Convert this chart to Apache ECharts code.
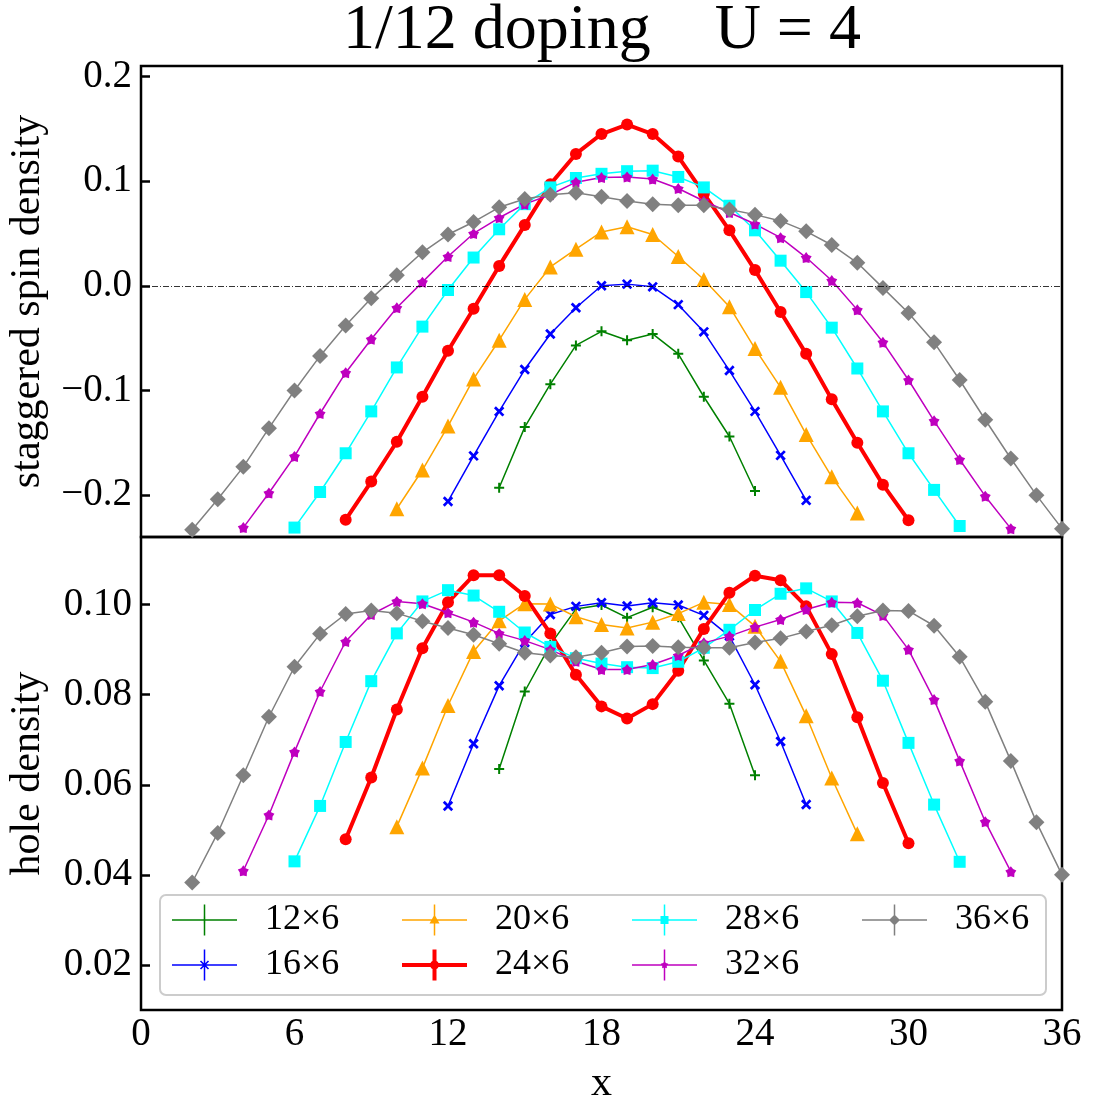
<!DOCTYPE html>
<html><head><meta charset="utf-8">
<script src="https://cdn.jsdelivr.net/npm/echarts@6/dist/echarts.min.js"></script>
<style>html,body{margin:0;padding:0;background:#fff}#c{width:1093px;height:1103px}</style>
</head><body><div id="c"></div>
<script>
// ---------------- data ----------------
const sizeNames = ['12×6', '16×6', '20×6', '24×6', '28×6', '32×6', '36×6'];
const xStart = [14, 12, 10, 8, 6, 4, 2];
const xTicks = [0, 6, 12, 18, 24, 30, 36];
const spinTicks = [-0.2, -0.1, 0.0, 0.1, 0.2];
const holeTicks = [0.02, 0.04, 0.06, 0.08, 0.10];

const spin12 = [-0.193, -0.135, -0.094, -0.057, -0.0435, -0.052, -0.046, -0.065, -0.106, -0.144, -0.196];
const spin16 = [-0.206, -0.1625, -0.120, -0.080, -0.046, -0.021, 0.000, 0.0016, -0.001, -0.018, -0.044, -0.081, -0.120, -0.162, -0.205];
const spin20 = [-0.213, -0.176, -0.134, -0.089, -0.052, -0.013, 0.018, 0.035, 0.0515, 0.0565, 0.049, 0.028, 0.006, -0.020, -0.060, -0.097, -0.142, -0.1825, -0.217];
const spin24 = [-0.2235, -0.187, -0.149, -0.106, -0.062, -0.022, 0.019, 0.058, 0.097, 0.126, 0.145, 0.154, 0.145, 0.1235, 0.088, 0.053, 0.015, -0.025, -0.065, -0.1085, -0.150, -0.190, -0.224];
const spin28 = [-0.231, -0.197, -0.160, -0.120, -0.078, -0.039, -0.004, 0.027, 0.054, 0.078, 0.094, 0.103, 0.107, 0.1095, 0.110, 0.104, 0.094, 0.0765, 0.053, 0.024, -0.006, -0.040, -0.079, -0.120, -0.160, -0.195, -0.2295];
const spin32 = [-0.231, -0.198, -0.163, -0.122, -0.083, -0.051, -0.021, 0.0035, 0.028, 0.050, 0.065, 0.078, 0.087, 0.099, 0.1035, 0.104, 0.102, 0.093, 0.081, 0.070, 0.059, 0.046, 0.027, 0.005, -0.023, -0.054, -0.090, -0.129, -0.166, -0.201, -0.232];
const spin36 = [-0.233, -0.204, -0.173, -0.136, -0.100, -0.067, -0.038, -0.012, 0.010, 0.032, 0.049, 0.061, 0.075, 0.083, 0.087, 0.089, 0.085, 0.081, 0.078, 0.077, 0.077, 0.073, 0.068, 0.062, 0.052, 0.039, 0.022, -0.002, -0.026, -0.054, -0.090, -0.128, -0.165, -0.200, -0.232];

const hole12 = [0.0635, 0.0807, 0.0911, 0.0990, 0.0999, 0.0971, 0.0994, 0.0972, 0.0876, 0.0780, 0.0621];
const hole16 = [0.0553, 0.0691, 0.0820, 0.0916, 0.0978, 0.0996, 0.1004, 0.0997, 0.1004, 0.0999, 0.0976, 0.0930, 0.0822, 0.0696, 0.0556];
const hole20 = [0.0507, 0.0637, 0.0776, 0.0896, 0.0964, 0.1002, 0.1001, 0.0973, 0.0956, 0.0948, 0.0961, 0.0980, 0.1005, 0.1000, 0.0952, 0.0874, 0.0753, 0.0615, 0.0491];
const hole24 = [0.0479, 0.0616, 0.0767, 0.0903, 0.1005, 0.1065, 0.1065, 0.1019, 0.0936, 0.0844, 0.0774, 0.0747, 0.0779, 0.0853, 0.0946, 0.1026, 0.1064, 0.1054, 0.0996, 0.0890, 0.0750, 0.0604, 0.0470];
const hole28 = [0.0430, 0.0553, 0.0695, 0.0830, 0.0936, 0.1007, 0.1032, 0.1020, 0.0984, 0.0938, 0.0906, 0.0881, 0.0869, 0.0861, 0.0859, 0.0873, 0.0904, 0.0944, 0.0988, 0.1024, 0.1036, 0.1007, 0.0937, 0.0831, 0.0693, 0.0556, 0.0429];
const hole32 = [0.0409, 0.0533, 0.0673, 0.0807, 0.0918, 0.0978, 0.1007, 0.1002, 0.0982, 0.0961, 0.0936, 0.0920, 0.0900, 0.0874, 0.0856, 0.0856, 0.0867, 0.0887, 0.0915, 0.0930, 0.0950, 0.0967, 0.0989, 0.1005, 0.1004, 0.0976, 0.0900, 0.0789, 0.0653, 0.0518, 0.0407];
const hole36 = [0.0383, 0.0493, 0.0621, 0.0751, 0.0862, 0.0935, 0.0979, 0.0987, 0.0981, 0.0963, 0.0948, 0.0933, 0.0913, 0.0893, 0.0887, 0.0883, 0.0893, 0.0907, 0.0908, 0.0905, 0.0904, 0.0904, 0.0916, 0.0925, 0.0940, 0.0954, 0.0974, 0.0987, 0.0986, 0.0953, 0.0884, 0.0784, 0.0653, 0.0517, 0.0400];

const spinData = [spin12, spin16, spin20, spin24, spin28, spin32, spin36];
const holeData = [hole12, hole16, hole20, hole24, hole28, hole32, hole36];

// ---------------- styles ----------------
const FONT = 'Liberation Serif';
const PLUS = 'path://M-1,-5L1,-5L1,-1L5,-1L5,1L1,1L1,5L-1,5L-1,1L-5,1L-5,-1L-1,-1Z';
const XMARK = 'path://M-1.15,-5L1.15,-5L1.15,-1.15L5,-1.15L5,1.15L1.15,1.15L1.15,5L-1.15,5L-1.15,1.15L-5,1.15L-5,-1.15L-1.15,-1.15Z';
const STAR = 'path://M0,-5L1.9,-2.6L4.755,-1.545L3.1,1.0L2.939,4.045L0,3.3L-2.939,4.045L-3.1,1.0L-4.755,-1.545L-1.9,-2.6Z';
const styles = [
  { color: '#008000', symbol: PLUS, size: 10, rotate: 0, lw: 1.5 },
  { color: '#0000ff', symbol: XMARK, size: 12, rotate: 45, lw: 1.5 },
  { color: '#ffa500', symbol: 'triangle', size: 15, rotate: 0, lw: 1.5 },
  { color: '#ff0000', symbol: 'circle', size: 12, rotate: 0, lw: 4 },
  { color: '#00ffff', symbol: 'rect', size: 12, rotate: 0, lw: 1.5 },
  { color: '#bf00bf', symbol: STAR, size: 11, rotate: 0, lw: 1.5 },
  { color: '#808080', symbol: 'diamond', size: 16, rotate: 0, lw: 1.5 }
];

// legend icons: horizontal line + vertical error bar + marker, in a 65x31 box
function bars(t) {
  const h0 = 15.5 - t / 2, h1 = 15.5 + t / 2, v0 = 32.5 - t / 2, v1 = 32.5 + t / 2;
  return `M0,${h0}L65,${h0}L65,${h1}L0,${h1}Z M${v0},0L${v1},0L${v1},31L${v0},31Z`;
}
const cx = 32.5, cy = 15.5;
const iconMarkers = [
  `M${cx-0.8},${cy-3.5}L${cx+0.8},${cy-3.5}L${cx+0.8},${cy-0.8}L${cx+3.5},${cy-0.8}L${cx+3.5},${cy+0.8}L${cx+0.8},${cy+0.8}L${cx+0.8},${cy+3.5}L${cx-0.8},${cy+3.5}L${cx-0.8},${cy+0.8}L${cx-3.5},${cy+0.8}L${cx-3.5},${cy-0.8}L${cx-0.8},${cy-0.8}Z`,
  `M${cx-3.43},${cy-4.57}L${cx+4.57},${cy+3.43}L${cx+3.43},${cy+4.57}L${cx-4.57},${cy-3.43}Z M${cx+3.43},${cy-4.57}L${cx+4.57},${cy-3.43}L${cx-3.43},${cy+4.57}L${cx-4.57},${cy+3.43}Z`,
  `M${cx},${cy-5.5}L${cx+5},${cy+3.5}L${cx-5},${cy+3.5}Z`,
  `M${cx-4.5},${cy}A4.5 4.5 0 1 1 ${cx+4.5},${cy}A4.5 4.5 0 1 1 ${cx-4.5},${cy}Z`,
  `M${cx-4},${cy-4}L${cx+4},${cy-4}L${cx+4},${cy+4}L${cx-4},${cy+4}Z`,
  `M${cx},${cy-4}L${cx+1.41},${cy-1.94}L${cx+3.8},${cy-1.24}L${cx+2.28},${cy+0.74}L${cx+2.35},${cy+3.24}L${cx},${cy+2.4}L${cx-2.35},${cy+3.24}L${cx-2.28},${cy+0.74}L${cx-3.8},${cy-1.24}L${cx-1.41},${cy-1.94}Z`,
  `M${cx},${cy-5.5}L${cx+5.5},${cy}L${cx},${cy+5.5}L${cx-5.5},${cy}Z`
];
const icons = styles.map((s, i) => 'path://' + bars(s.lw === 4 ? 4 : 1.5) + ' ' + iconMarkers[i]);

// ---------------- series ----------------
function pairs(arr, x0) { return arr.map((v, i) => [x0 + i, v]); }
const series = [];
sizeNames.forEach((name, i) => {
  const st = styles[i];
  const common = {
    type: 'line', name: name, symbol: st.symbol, symbolSize: st.size, symbolRotate: st.rotate,
    showAllSymbol: true, animation: false, silent: true,
    lineStyle: { color: st.color, width: st.lw },
    itemStyle: { color: st.color, borderWidth: 0 },
    emphasis: { disabled: true }
  };
  const top = Object.assign({}, common, { xAxisIndex: 0, yAxisIndex: 0, data: pairs(spinData[i], xStart[i]) });
  if (i === 0) {
    top.markLine = {
      silent: true, symbol: 'none', animation: false, label: { show: false },
      lineStyle: { color: '#000', width: 0.8, type: [6, 2, 1, 2] },
      data: [{ yAxis: 0 }]
    };
  }
  series.push(top);
  series.push(Object.assign({}, common, { xAxisIndex: 1, yAxisIndex: 1, data: pairs(holeData[i], xStart[i]) }));
});

// ---------------- legend columns ----------------
const legendCols = [[0, 1], [2, 3], [4, 5], [6]];
const legendLeft = [172, 402, 632, 862];
const legends = legendCols.map((col, c) => ({
  orient: 'vertical', left: legendLeft[c], top: 901, padding: 0,
  itemWidth: 65, itemHeight: 31, itemGap: 7, selectedMode: false,
  itemStyle: { borderWidth: 0 },
  textStyle: { fontFamily: FONT, fontSize: 36, color: '#000', lineHeight: 38, padding: [0, 0, 0, 23] },
  data: col.map(i => ({ name: sizeNames[i], icon: icons[i] }))
}));

const grids = [
  { left: 141, right: 31, top: 66, height: 471, show: true, borderColor: '#000', borderWidth: 2.5,
    backgroundColor: 'transparent', containLabel: false, outerBoundsMode: 'none' },
  { left: 141, right: 31, top: 537, height: 473, show: true, borderColor: '#000', borderWidth: 2.5,
    backgroundColor: 'transparent', containLabel: false, outerBoundsMode: 'none' }
];

const xAxisBase = {
  type: 'value', min: 0, max: 36, interval: 6,
  splitLine: { show: false }, axisLine: { show: false }, axisTick: { show: false }
};

const option = {
  animation: false,
  backgroundColor: '#fff',
  title: {
    text: '1/12 doping    U = 4', left: 602, top: -1, padding: 0, textAlign: 'center',
    textStyle: { fontFamily: FONT, fontSize: 64, fontWeight: 'normal', color: '#000' }
  },
  legend: legends,
  graphic: [{
    type: 'rect', left: 159, top: 894, z: 3, silent: true,
    shape: { width: 886, height: 100, r: 6 },
    style: { fill: '#fff', stroke: '#cccccc', lineWidth: 2 }
  }],
  grid: grids,
  xAxis: [
    Object.assign({}, xAxisBase, { gridIndex: 0, axisLabel: { show: false } }),
    Object.assign({}, xAxisBase, {
      gridIndex: 1,
      name: 'x', nameLocation: 'middle', nameGap: 53,
      nameTextStyle: { fontFamily: FONT, fontSize: 42, color: '#000' },
      axisLabel: { fontFamily: FONT, fontSize: 39, color: '#000', margin: 5,
        customValues: xTicks, formatter: v => String(v) }
    })
  ],
  yAxis: [
    {
      type: 'value', gridIndex: 0, min: -0.24, max: 0.21,
      splitLine: { show: false }, axisLine: { show: false },
      axisTick: { show: true, inside: true, length: 9, lineStyle: { color: '#000', width: 2.5 }, customValues: spinTicks },
      axisLabel: { fontFamily: FONT, fontSize: 39, color: '#000', margin: 9, customValues: spinTicks,
        formatter: v => v.toFixed(1).replace('-', '\u2212') },
      name: 'staggered spin density', nameLocation: 'middle', nameGap: 92, nameRotate: 90,
      nameTextStyle: { fontFamily: FONT, fontSize: 42, color: '#000' }
    },
    {
      type: 'value', gridIndex: 1, min: 0.01, max: 0.115,
      splitLine: { show: false }, axisLine: { show: false },
      axisTick: { show: true, inside: true, length: 9, lineStyle: { color: '#000', width: 2.5 }, customValues: holeTicks },
      axisLabel: { fontFamily: FONT, fontSize: 39, color: '#000', margin: 9, customValues: holeTicks,
        formatter: v => v.toFixed(2) },
      name: 'hole density', nameLocation: 'middle', nameGap: 92, nameRotate: 90,
      nameTextStyle: { fontFamily: FONT, fontSize: 42, color: '#000' }
    }
  ],
  series: series
};

const chart = echarts.init(document.getElementById('c'), null, { renderer: 'canvas' });
chart.setOption(option);
</script>
</body></html>
